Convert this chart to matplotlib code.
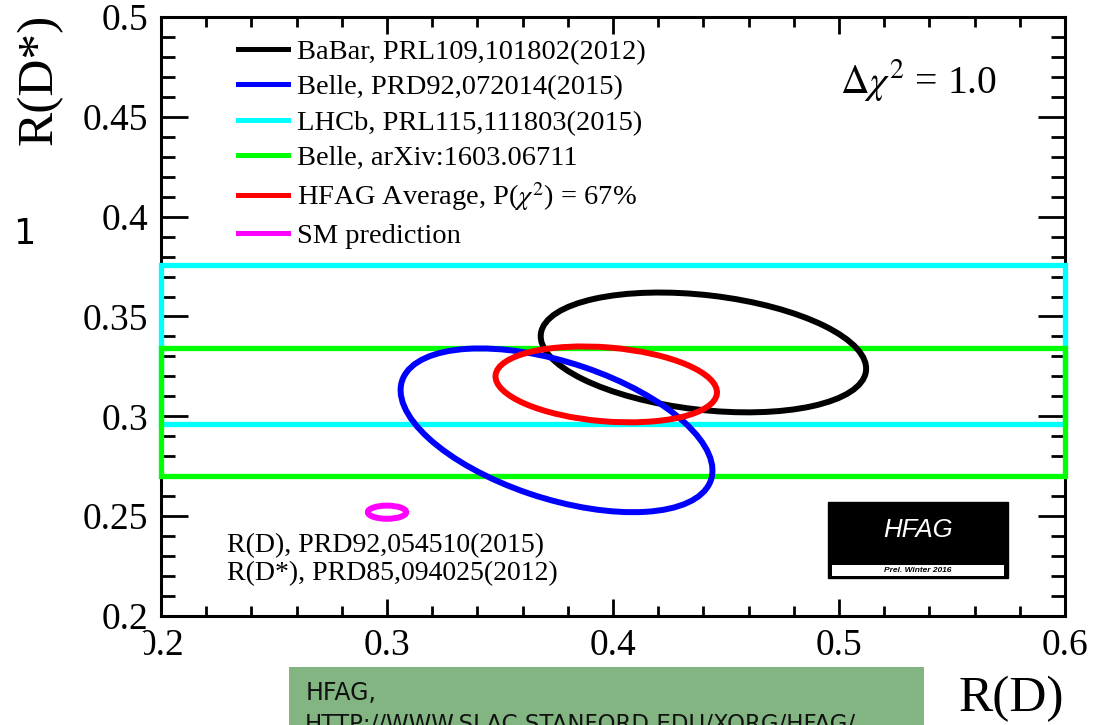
import numpy as np
import matplotlib
matplotlib.use("Agg")
import matplotlib.pyplot as plt
from matplotlib.patches import Ellipse, Rectangle
from matplotlib.lines import Line2D
from matplotlib.ticker import MultipleLocator, FuncFormatter

plt.rcParams['font.family'] = ['Liberation Serif', 'DejaVu Serif']
plt.rcParams['mathtext.fontset'] = 'stix'

# 2D measurements of R(D), R(D*): central value, total error, correlation
ell_labels = ["BaBar, PRL109,101802(2012)",
              "Belle, PRD92,072014(2015)",
              r"HFAG Average, P($\chi^2$) = 67%",
              "SM prediction"]
ell_colors = ["black", "#0000ff", "#ff0000", "#ff00ff"]
rd_val = [0.440, 0.375, 0.397, 0.300]
rd_err = [0.072, 0.069, 0.049, 0.0085]
rds_val = [0.332, 0.293, 0.316, 0.252]
rds_err = [0.030, 0.041, 0.019, 0.0033]
rho = [-0.27, -0.49, -0.21, 0.0]

# R(D*)-only measurements, drawn as bands over the full R(D) range
band_labels = ["LHCb, PRL115,111803(2015)", "Belle, arXiv:1603.06711"]
band_colors = ["#00ffff", "#00ff00"]
band_val = [0.336, 0.302]
band_err = [0.040, 0.032]

legend_order = [0, 1, "b0", "b1", 2, 3]

xlim = (0.2, 0.6)
ylim = (0.2, 0.5)
dchi2 = 1.0

fig = plt.figure(figsize=(10.94, 7.25), dpi=100)
ax = fig.add_axes([0.1472, 0.1503, 0.8263, 0.8263])
ax.set_xlim(*xlim)
ax.set_ylim(*ylim)

for sp in ax.spines.values():
    sp.set_linewidth(2.2)
    sp.set_zorder(2.4)

# bands
for val, err, col in zip(band_val, band_err, band_colors):
    r = Rectangle((xlim[0], val - err), xlim[1] - xlim[0], 2 * err,
                  fill=False, edgecolor=col, lw=3.8, clip_on=False, zorder=2.45)
    ax.add_patch(r)

# delta chi2 = 1 contours
for x, sx, y, sy, r, col in zip(rd_val, rd_err, rds_val, rds_err, rho, ell_colors):
    cov = np.array([[sx**2, r * sx * sy], [r * sx * sy, sy**2]])
    w, v = np.linalg.eigh(cov)
    ang = np.degrees(np.arctan2(v[1, 1], v[0, 1]))
    e = Ellipse((x, y), 2 * np.sqrt(w[1] * dchi2), 2 * np.sqrt(w[0] * dchi2),
                angle=ang, fill=False, edgecolor=col, lw=4.3, zorder=3)
    ax.add_patch(e)

# ticks
ax.xaxis.set_major_locator(MultipleLocator(0.1))
ax.xaxis.set_minor_locator(MultipleLocator(0.02))
ax.yaxis.set_major_locator(MultipleLocator(0.05))
ax.yaxis.set_minor_locator(MultipleLocator(0.01))
fmt = FuncFormatter(lambda v, p: f"{v:g}")
ax.xaxis.set_major_formatter(fmt)
ax.yaxis.set_major_formatter(fmt)
ax.tick_params(which='both', direction='in', top=True, right=True, width=2.0,
               labelsize=27)
ax.tick_params(axis='x', which='major', length=12, pad=9)
ax.tick_params(axis='x', which='minor', length=7)
ax.tick_params(axis='y', which='major', length=19.5, pad=9)
ax.tick_params(axis='y', which='minor', length=10)

ax.set_xlabel("R(D)", fontsize=37)
ax.xaxis.set_label_coords(0.941, -0.10)
ax.set_ylabel("R(D*)", fontsize=37, va='center')
ax.yaxis.set_label_coords(-0.134, 0.896)

# legend
handles, labels = [], []
for k in legend_order:
    if isinstance(k, str):
        i = int(k[1:])
        handles.append(Line2D([], [], color=band_colors[i], lw=3.6))
        labels.append(band_labels[i])
    else:
        handles.append(Line2D([], [], color=ell_colors[k], lw=3.6))
        labels.append(ell_labels[k])
ax.legend(handles, labels, loc='upper left', bbox_to_anchor=(0.085, 0.963),
          frameon=False, fontsize=20.5, handlelength=1.75, handletextpad=0.32,
          labelspacing=0.33, borderpad=0, borderaxespad=0)

ax.text(0.751, 0.873, r"$\Delta\chi^2$ = 1.0", transform=ax.transAxes,
        fontsize=28.5, ha='left', va='baseline')

ax.text(0.073, 0.107, "R(D), PRD92,054510(2015)", transform=ax.transAxes,
        fontsize=20, va='baseline')
ax.text(0.073, 0.060, "R(D*), PRD85,094025(2012)", transform=ax.transAxes,
        fontsize=20, va='baseline')

# HFAG logo
ax.add_patch(Rectangle((0.738, 0.063), 0.199, 0.127, transform=ax.transAxes,
                       facecolor='black', edgecolor='black', lw=1, zorder=4))
ax.add_patch(Rectangle((0.742, 0.067), 0.191, 0.018, transform=ax.transAxes,
                       facecolor='white', edgecolor='none', zorder=5))
ax.text(0.837, 0.143, "HFAG", transform=ax.transAxes, color='white',
        fontsize=18.5, style='italic', family='Liberation Sans',
        ha='center', va='center', zorder=6)
ax.text(0.837, 0.0765, "Prel. Winter 2016", transform=ax.transAxes, color='black',
        fontsize=6, style='italic', weight='bold', family='Liberation Sans',
        ha='center', va='center', zorder=6)

# covers the left part of the "0.2" label on the R(D) axis
fig.add_artist(Rectangle((0.1188, 0.0869), 0.0128, 0.0414, transform=fig.transFigure,
                         facecolor='white', edgecolor='none', zorder=10))

fig.text(0.012, 0.663, "1", fontsize=25, family='DejaVu Sans', va='baseline')

# source box
fig.add_artist(Rectangle((0.264, 0.0), 0.581, 0.080, transform=fig.transFigure,
                         facecolor='#82b582', edgecolor='none'))
fig.text(0.279, 0.0345, "HFAG,", fontsize=17, family='DejaVu Sans',
         va='baseline', color='#111111')
fig.text(0.279, 0.0165, "HTTP://WWW.SLAC.STANFORD.EDU/XORG/HFAG/", fontsize=16.5,
         family='DejaVu Sans', va='top', color='#111111')

fig.savefig("out.png", dpi=100)
